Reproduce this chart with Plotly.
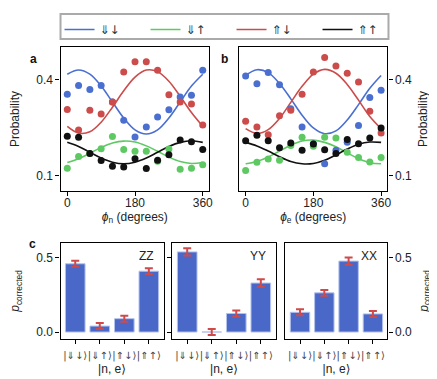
import plotly.graph_objects as go

# Sampled angles (degrees)
phi = [0, 30, 60, 90, 120, 150, 180, 210, 240, 270, 300, 330, 360]

# Panel a: measured probabilities vs phi_n
a_dd = [0.355, 0.383, 0.370, 0.383, 0.331, 0.274, 0.222, 0.253, 0.284, 0.307, 0.347, 0.352, 0.430]
a_du = [0.124, 0.161, 0.170, 0.185, 0.223, 0.183, 0.177, 0.177, 0.146, 0.184, 0.121, 0.124, 0.135]
a_ud = [0.308, 0.244, 0.305, 0.294, 0.331, 0.425, 0.457, 0.457, 0.430, 0.354, 0.331, 0.325, 0.259]
a_uu = [0.224, 0.221, 0.170, 0.148, 0.130, 0.128, 0.154, 0.123, 0.149, 0.166, 0.212, 0.207, 0.183]

# Panel a: fitted curves
a_dd_fit = [0.418, 0.431, 0.418, 0.381, 0.331, 0.281, 0.244, 0.231, 0.244, 0.281, 0.331, 0.381, 0.418]
a_du_fit = [0.142, 0.154, 0.171, 0.189, 0.203, 0.209, 0.206, 0.194, 0.177, 0.159, 0.145, 0.139, 0.142]
a_ud_fit = [0.255, 0.234, 0.238, 0.268, 0.315, 0.366, 0.409, 0.431, 0.426, 0.396, 0.349, 0.298, 0.255]
a_uu_fit = [0.205, 0.192, 0.174, 0.156, 0.143, 0.138, 0.143, 0.156, 0.174, 0.192, 0.205, 0.210, 0.205]

# Panel b: measured probabilities vs phi_e
b_dd = [0.412, 0.388, 0.423, 0.385, 0.310, 0.253, 0.200, 0.138, 0.180, 0.205, 0.258, 0.345, 0.368]
b_du = [0.117, 0.143, 0.153, 0.149, 0.195, 0.221, 0.193, 0.221, 0.219, 0.174, 0.158, 0.144, 0.158]
b_ud = [0.271, 0.253, 0.229, 0.288, 0.305, 0.355, 0.425, 0.470, 0.444, 0.421, 0.394, 0.302, 0.234]
b_uu = [0.210, 0.227, 0.210, 0.188, 0.203, 0.180, 0.200, 0.182, 0.170, 0.214, 0.201, 0.219, 0.250]

b_dd_fit = [0.414, 0.432, 0.423, 0.389, 0.341, 0.290, 0.250, 0.232, 0.241, 0.275, 0.323, 0.374, 0.414]
b_du_fit = [0.138, 0.145, 0.159, 0.178, 0.196, 0.209, 0.212, 0.205, 0.191, 0.172, 0.154, 0.141, 0.138]
b_ud_fit = [0.248, 0.233, 0.245, 0.280, 0.330, 0.380, 0.418, 0.433, 0.421, 0.386, 0.337, 0.286, 0.248]
b_uu_fit = [0.205, 0.194, 0.178, 0.160, 0.145, 0.138, 0.139, 0.149, 0.166, 0.184, 0.199, 0.206, 0.205]

# Panel c: corrected populations for each basis
states = ['|⇓↓⟩', '|⇓↑⟩', '|⇑↓⟩', '|⇑↑⟩']
bases = ['ZZ', 'YY', 'XX']
p_zz = [0.46, 0.04, 0.09, 0.41]
p_yy = [0.54, 0.0, 0.125, 0.33]
p_xx = [0.133, 0.264, 0.478, 0.122]
err_zz = [0.02, 0.02, 0.02, 0.02]
err_yy = [0.025, 0.02, 0.02, 0.025]
err_xx = [0.02, 0.02, 0.025, 0.02]

legend_names = ['⇓↓', '⇓↑', '⇑↓', '⇑↑']
colors = ['#4a6fd0', '#5ec962', '#cc4b4b', '#111111']
bar_color = '#4a68c8'
err_color = '#d04a4a'
FONT = 'Arial, Liberation Sans, DejaVu Sans, sans-serif'

W, H = 437, 379


def px(x):
    return x / W


def py(y):
    return 1 - y / H


fig = go.Figure()

panels = [
    ('x', 'y', [a_dd, a_du, a_ud, a_uu], [a_dd_fit, a_du_fit, a_ud_fit, a_uu_fit], True),
    ('x2', 'y2', [b_dd, b_du, b_ud, b_uu], [b_dd_fit, b_du_fit, b_ud_fit, b_uu_fit], False),
]
for xa, ya, pts, fits, show in panels:
    for i in range(4):
        fig.add_trace(go.Scatter(x=phi, y=fits[i], mode='lines', line=dict(color=colors[i], width=1.6, shape='spline'),
                                 name=legend_names[i], showlegend=show, xaxis=xa, yaxis=ya))
    for i in range(4):
        fig.add_trace(go.Scatter(x=phi, y=pts[i], mode='markers', marker=dict(color=colors[i], size=7),
                                 showlegend=False, xaxis=xa, yaxis=ya))

bar_sets = [(p_zz, err_zz), (p_yy, err_yy), (p_xx, err_xx)]
for k, (vals, errs) in enumerate(bar_sets):
    fig.add_trace(go.Bar(x=list(range(4)), y=vals, marker=dict(color=bar_color, line=dict(color='#b4c2ec', width=1)),
                         error_y=dict(type='data', array=errs, color=err_color, thickness=2, width=4),
                         showlegend=False, xaxis='x%d' % (k + 3), yaxis='y%d' % (k + 3)))


def frame_axis(**kw):
    d = dict(showline=True, linecolor='black', linewidth=1.3, mirror=True, ticks='outside', ticklen=4,
             tickcolor='black', tickwidth=1.2, showgrid=False, zeroline=False,
             tickfont=dict(family=FONT, size=12, color='#222'))
    d.update(kw)
    return d


title_font = dict(family=FONT, size=12, color='#222')
phi_axis = dict(range=[-18, 377], tickvals=[0, 180, 360], ticklabelstandoff=-4)
prob_axis = dict(range=[0.053, 0.503], tickvals=[0.1, 0.4], tickformat='.1f')

fig.update_layout(
    width=W, height=H, margin=dict(l=0, r=0, t=0, b=0),
    plot_bgcolor='white', paper_bgcolor='white',
    font=dict(family=FONT, size=12, color='#222'),
    bargap=0.2,
    xaxis=frame_axis(domain=[px(53), px(203)], anchor='y', **phi_axis,
                     title=dict(text='<i>ϕ</i><sub>n</sub> (degrees)', font=title_font, standoff=0)),
    yaxis=frame_axis(domain=[py(183), py(39)], anchor='x', **prob_axis,
                     title=dict(text='Probability', font=title_font, standoff=14)),
    xaxis2=frame_axis(domain=[px(233), px(383)], anchor='y2', **phi_axis,
                      title=dict(text='<i>ϕ</i><sub>e</sub> (degrees)', font=title_font, standoff=0)),
    yaxis2=frame_axis(domain=[py(183), py(39)], anchor='x2', side='right', **prob_axis,
                      title=dict(text='Probability', font=title_font, standoff=7)),
    legend=dict(orientation='h', x=px(52), xanchor='left', y=py(7), yanchor='top',
                bgcolor='rgba(0,0,0,0)', borderwidth=0, entrywidth=41,
                font=dict(family='DejaVu Sans, sans-serif', size=12, color='#333')),
)

bar_domains = [[px(53), px(157)], [px(166), px(270)], [px(280), px(383)]]
for k in range(3):
    n = k + 3
    xa = frame_axis(domain=bar_domains[k], anchor='y%d' % n, range=[-0.6, 3.6], tickvals=list(range(4)),
                    ticktext=states, ticklabelstandoff=3, tickangle=0,
                    tickfont=dict(family='DejaVu Sans, sans-serif', size=10, color='#444'),
                    title=dict(text='|n, e⟩', font=title_font, standoff=3))
    ya = frame_axis(domain=[py(331), py(235)], anchor='x%d' % n, range=[-0.047, 0.6], tickvals=[0.0, 0.5],
                    tickformat='.1f')
    if k == 0:
        ya['title'] = dict(text='<i>p</i><sub>corrected</sub>', font=title_font, standoff=14)
    elif k == 1:
        ya['showticklabels'] = False
    else:
        ya['side'] = 'right'
        ya['title'] = dict(text='<i>p</i><sub>corrected</sub>', font=title_font, standoff=8)
    fig.layout['xaxis%d' % n] = xa
    fig.layout['yaxis%d' % n] = ya
    fig.add_annotation(text=bases[k], xref='x%d domain' % n, yref='y%d domain' % n, x=1, y=1,
                       xanchor='right', yanchor='top', xshift=-8, yshift=-4, showarrow=False,
                       font=dict(family=FONT, size=12, color='#222'))

# legend frame
fig.add_shape(type='rect', xref='paper', yref='paper', x0=px(53), x1=px(384), y0=py(31), y1=py(6),
              line=dict(color='#aaaaaa', width=2))

# panel letters
for lab, x, y in [('a', 20, 42), ('b', 218, 42), ('c', 19, 236)]:
    fig.add_annotation(text='<b>%s</b>' % lab, xref='paper', yref='paper', x=px(x), y=py(y),
                       showarrow=False, font=dict(family=FONT, size=12, color='#111'))

fig.write_html("out.html")
